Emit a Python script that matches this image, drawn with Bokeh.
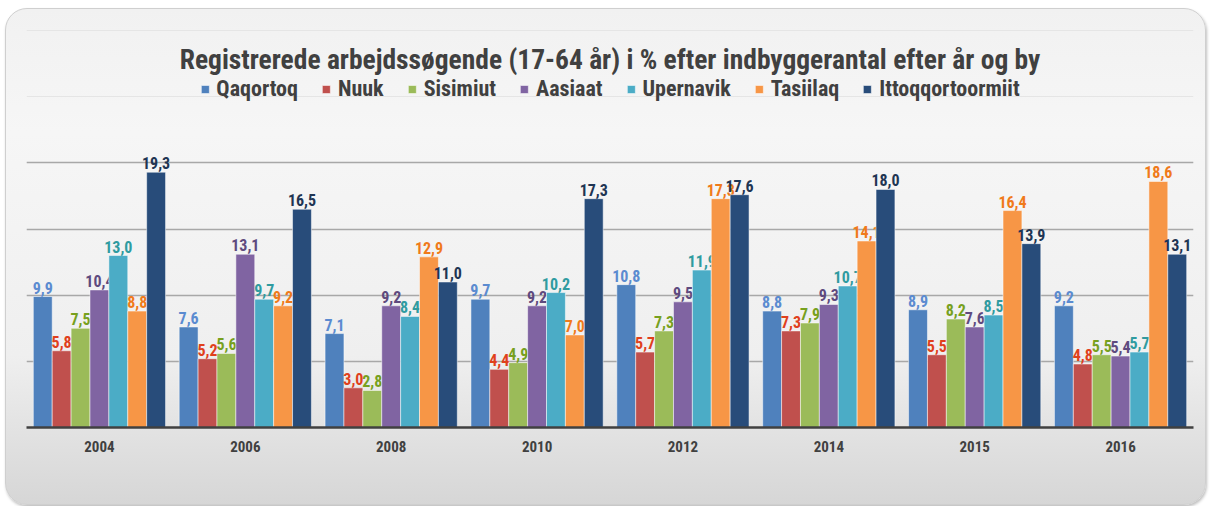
from bokeh.plotting import figure
from bokeh.models import ColumnDataSource, FactorRange, FixedTicker, Label, Legend, LegendItem, Grid
from bokeh.transform import dodge
from bokeh.core.properties import value
from bokeh.embed import file_html
from bokeh.resources import INLINE

# ---- data ----
years = ["2004", "2006", "2008", "2010", "2012", "2014", "2015", "2016"]
cities = ["Qaqortoq", "Nuuk", "Sisimiut", "Aasiaat", "Upernavik", "Tasiilaq", "Ittoqqortoormiit"]
qaqortoq = [9.9, 7.6, 7.1, 9.7, 10.8, 8.8, 8.9, 9.2]
nuuk = [5.8, 5.2, 3.0, 4.4, 5.7, 7.3, 5.5, 4.8]
sisimiut = [7.5, 5.6, 2.8, 4.9, 7.3, 7.9, 8.2, 5.5]
aasiaat = [10.4, 13.1, 9.2, 9.2, 9.5, 9.3, 7.6, 5.4]
upernavik = [13.0, 9.7, 8.4, 10.2, 11.9, 10.7, 8.5, 5.7]
tasiilaq = [8.8, 9.2, 12.9, 7.0, 17.3, 14.1, 16.4, 18.6]
ittoqqortoormiit = [19.3, 16.5, 11.0, 17.3, 17.6, 18.0, 13.9, 13.1]
series = [qaqortoq, nuuk, sisimiut, aasiaat, upernavik, tasiilaq, ittoqqortoormiit]
gridline_values = [5, 10, 15, 20]
title_text = "Registrerede arbejdssøgende (17-64 år) i % efter indbyggerantal efter år og by"

# ---- styles ----
bar_colors = ["#4F81BD", "#C0504D", "#9BBB59", "#8064A2", "#4BACC6", "#F79646", "#284C7A"]
label_colors = ["#5B8BD0", "#E0401C", "#77A01E", "#5E4A7E", "#2F9BA0", "#F07A1A", "#1F3553"]
NARROW = "'Liberation Sans Narrow', 'Roboto Condensed', 'DejaVu Sans Condensed', 'Liberation Sans', sans-serif"

p = figure(
    width=1201, height=497,
    x_range=FactorRange(*years, range_padding=0),
    y_range=(0, 31.6),
    output_backend="svg", toolbar_location=None, tools="",
    y_axis_location=None,
    min_border_left=20, min_border_right=14, min_border_top=0, min_border_bottom=79,
    border_fill_alpha=0, background_fill_alpha=0, outline_line_color=None,
    styles={
        "margin-left": "5px",
        "margin-top": "8px",
        "background": "linear-gradient(to bottom, #f1f1f1 0%, #f6f6f6 25%, #efefef 70%, #d6d6d6 100%)",
        "border-radius": "22px",
        "border": "1px solid #cfcfcf",
        "box-shadow": "1px 2px 3px rgba(0,0,0,0.25)",
    },
)
p.xgrid.visible = False

grid = Grid(dimension=1, ticker=FixedTicker(ticks=gridline_values),
            grid_line_color="#a8a8a8", grid_line_width=1.5)
p.add_layout(grid)

bw = 0.1295
items = []
for k, (name, vals) in enumerate(zip(cities, series)):
    src = ColumnDataSource(dict(
        year=years, v=vals,
        lbl=[f"{x:.1f}".replace(".", ",") for x in vals],
    ))
    off = (k - 3) * bw
    r = p.vbar(x=dodge("year", off, range=p.x_range), top="v", width=bw, source=src,
               fill_color=bar_colors[k], line_color="white", line_alpha=0.5, line_width=1)
    p.text(x=dodge("year", off, range=p.x_range), y="v", text="lbl", source=src,
           text_align="center", text_baseline="bottom", y_offset=-3,
           text_color=label_colors[k], text_font=value(NARROW),
           text_font_size="16px", text_font_style="bold")
    items.append(LegendItem(label=name, renderers=[r]))

legend = Legend(items=items, location="top_center", orientation="horizontal",
                margin=67, padding=0, spacing=23, label_standoff=7,
                glyph_width=10, glyph_height=10, label_height=22,
                label_text_font=NARROW, label_text_font_size="22px",
                label_text_font_style="bold", label_text_color="#404040",
                background_fill_alpha=0, border_line_alpha=0)
p.add_layout(legend)

p.add_layout(Label(x=4, y=27.85, text=title_text, text_align="center", text_baseline="middle",
                   text_font=NARROW, text_font_size="27.5px", text_font_style="bold",
                   text_color="#404040"))

ax = p.xaxis[0]
ax.axis_line_color = "#404040"
ax.axis_line_width = 2.5
ax.major_tick_line_color = None
ax.minor_tick_line_color = None
ax.major_label_standoff = 7
ax.major_label_text_font = NARROW
ax.major_label_text_font_size = "15px"
ax.major_label_text_font_style = "bold"
ax.major_label_text_color = "#404040"

open("out.html", "w").write(file_html(p, INLINE))
